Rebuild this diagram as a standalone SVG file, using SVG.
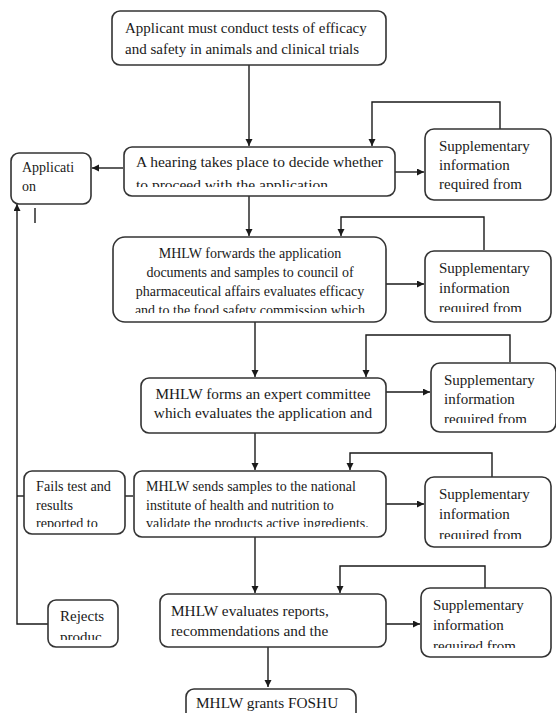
<svg xmlns="http://www.w3.org/2000/svg" width="556" height="713" viewBox="0 0 556 713">
<style>
.bx{fill:#fff;stroke:#333;stroke-width:1.6}
.t{font-family:"Liberation Serif","Times New Roman",serif;fill:#1a1a1a}
.c{stroke:#1a1a1a;stroke-width:1.4;fill:none}
</style>
<defs>
<marker id="ah" markerUnits="userSpaceOnUse" markerWidth="10" markerHeight="10" refX="7" refY="3.5" orient="auto">
<path d="M0,0 L7,3.5 L0,7 Z" fill="#1a1a1a"/>
</marker>
<clipPath id="cHear"><rect x="124" y="147" width="270" height="40"/></clipPath>
<clipPath id="cB3"><rect x="113" y="237" width="273" height="76"/></clipPath>
<clipPath id="cS2"><rect x="425" y="251" width="126" height="61"/></clipPath>
<clipPath id="cS3"><rect x="431" y="363" width="125" height="60"/></clipPath>
<clipPath id="cB5"><rect x="134" y="471" width="252" height="56"/></clipPath>
<clipPath id="cFail"><rect x="25" y="471" width="100" height="56"/></clipPath>
<clipPath id="cS4"><rect x="425" y="478" width="126" height="61"/></clipPath>
<clipPath id="cRej"><rect x="49" y="601" width="69" height="39"/></clipPath>
<clipPath id="cS5"><rect x="421" y="589" width="130" height="59"/></clipPath>
</defs>
<rect width="556" height="713" fill="#fff"/>

<g id="connectors">
<path class="c" d="M249,64 V146" marker-end="url(#ah)"/>
<path class="c" d="M123,168 H92" marker-end="url(#ah)"/>
<path class="c" d="M395,172 H424" marker-end="url(#ah)"/>
<path class="c" d="M500,129 V102 H372 V146" marker-end="url(#ah)"/>
<path class="c" d="M249,196 V236" marker-end="url(#ah)"/>
<path class="c" d="M484,250 V217 H341 V236" marker-end="url(#ah)"/>
<path class="c" d="M386,284 H424" marker-end="url(#ah)"/>
<path class="c" d="M255,322 V377" marker-end="url(#ah)"/>
<path class="c" d="M510,362 V335 H366 V377" marker-end="url(#ah)"/>
<path class="c" d="M386,392 H430" marker-end="url(#ah)"/>
<path class="c" d="M255,433 V470" marker-end="url(#ah)"/>
<path class="c" d="M492,477 V453 H350 V470" marker-end="url(#ah)"/>
<path class="c" d="M386,504 H424" marker-end="url(#ah)"/>
<path class="c" d="M133,496 H125"/>
<path class="c" d="M24,496 H17"/>
<path class="c" d="M48,624 H17 V204" marker-end="url(#ah)"/>
<path class="c" d="M255,537 V593" marker-end="url(#ah)"/>
<path class="c" d="M485,588 V566 H340 V593" marker-end="url(#ah)"/>
<path class="c" d="M386,624 H420" marker-end="url(#ah)"/>
<path class="c" d="M268,647 V687" marker-end="url(#ah)"/>
</g>

<line x1="35" y1="208" x2="35" y2="223" stroke="#1a1a1a" stroke-width="1.4"/>

<g id="n1">
<rect class="bx" x="112" y="11" width="274" height="54" rx="8"/>
<text class="t" font-size="15" x="125" y="33">Applicant must conduct tests of efficacy</text>
<text class="t" font-size="15" x="125" y="54">and safety in animals and clinical trials</text>
</g>

<g id="n2">
<rect class="bx" x="124" y="147" width="271" height="49" rx="8"/>
<g clip-path="url(#cHear)">
<text class="t" font-size="15.5" x="136" y="167">A hearing takes place to decide whether</text>
<text class="t" font-size="15.5" x="136" y="190">to proceed with the application</text>
</g>
</g>

<g id="application">
<rect class="bx" x="11" y="153" width="80" height="51" rx="8"/>
<text class="t" font-size="14" x="22" y="172">Applicati</text>
<text class="t" font-size="14" x="22" y="191">on</text>
</g>

<g id="supp1">
<rect class="bx" x="425" y="129" width="126" height="71" rx="9"/>
<text class="t" font-size="15" x="439" y="151">Supplementary</text>
<text class="t" font-size="15" x="439" y="170">information</text>
<text class="t" font-size="15" x="439" y="189">required from</text>
</g>

<g id="n3">
<rect class="bx" x="113" y="237" width="273" height="85" rx="12"/>
<g clip-path="url(#cB3)" text-anchor="middle">
<text class="t" font-size="14" x="250" y="258">MHLW forwards the application</text>
<text class="t" font-size="14" x="250" y="277">documents and samples to council of</text>
<text class="t" font-size="14" x="250" y="296">pharmaceutical affairs evaluates efficacy</text>
<text class="t" font-size="14" x="250" y="315">and to the food safety commission which</text>
</g>
</g>

<g id="supp2">
<rect class="bx" x="425" y="251" width="126" height="71" rx="9"/>
<g clip-path="url(#cS2)">
<text class="t" font-size="15" x="439" y="273">Supplementary</text>
<text class="t" font-size="15" x="439" y="293">information</text>
<text class="t" font-size="15" x="439" y="313">required from</text>
</g>
</g>

<g id="n4">
<rect class="bx" x="141" y="378" width="245" height="55" rx="8"/>
<text class="t" font-size="15.3" x="263" y="399" text-anchor="middle">MHLW forms an expert committee</text>
<text class="t" font-size="15.3" x="263" y="418" text-anchor="middle">which evaluates the application and</text>
</g>

<g id="supp3">
<rect class="bx" x="431" y="363" width="125" height="69" rx="9"/>
<g clip-path="url(#cS3)">
<text class="t" font-size="15" x="444" y="385">Supplementary</text>
<text class="t" font-size="15" x="444" y="404">information</text>
<text class="t" font-size="15" x="444" y="424">required from</text>
</g>
</g>

<g id="n5">
<rect class="bx" x="134" y="471" width="252" height="66" rx="8"/>
<g clip-path="url(#cB5)">
<text class="t" font-size="14" x="146" y="491">MHLW sends samples to the national</text>
<text class="t" font-size="14" x="146" y="510">institute of health and nutrition to</text>
<text class="t" font-size="14" x="146" y="528">validate the products active ingredients.</text>
</g>
</g>

<g id="fails">
<rect class="bx" x="24" y="471" width="101" height="63" rx="8"/>
<g clip-path="url(#cFail)">
<text class="t" font-size="14.2" x="36" y="491">Fails test and</text>
<text class="t" font-size="14.2" x="36" y="510">results</text>
<text class="t" font-size="14.2" x="36" y="528">reported to</text>
</g>
</g>

<g id="supp4">
<rect class="bx" x="425" y="477" width="126" height="70" rx="9"/>
<g clip-path="url(#cS4)">
<text class="t" font-size="15" x="439" y="499">Supplementary</text>
<text class="t" font-size="15" x="439" y="519">information</text>
<text class="t" font-size="15" x="439" y="540">required from</text>
</g>
</g>

<g id="n6">
<rect class="bx" x="160" y="594" width="226" height="53" rx="8"/>
<text class="t" font-size="15.3" x="171" y="616">MHLW evaluates reports,</text>
<text class="t" font-size="15.3" x="171" y="636">recommendations and the</text>
</g>

<g id="rejects">
<rect class="bx" x="48" y="600" width="70" height="47" rx="8"/>
<g clip-path="url(#cRej)">
<text class="t" font-size="15" x="60" y="621">Rejects</text>
<text class="t" font-size="15" x="60" y="642">produc</text>
</g>
</g>

<g id="supp5">
<rect class="bx" x="421" y="588" width="130" height="69" rx="9"/>
<g clip-path="url(#cS5)">
<text class="t" font-size="15" x="433" y="610">Supplementary</text>
<text class="t" font-size="15" x="433" y="630">information</text>
<text class="t" font-size="15" x="433" y="651">required from</text>
</g>
</g>

<g id="foshu">
<rect class="bx" x="186" y="689" width="170" height="40" rx="8"/>
<text class="t" font-size="15.3" x="196" y="708">MHLW grants FOSHU</text>
</g>
</svg>
